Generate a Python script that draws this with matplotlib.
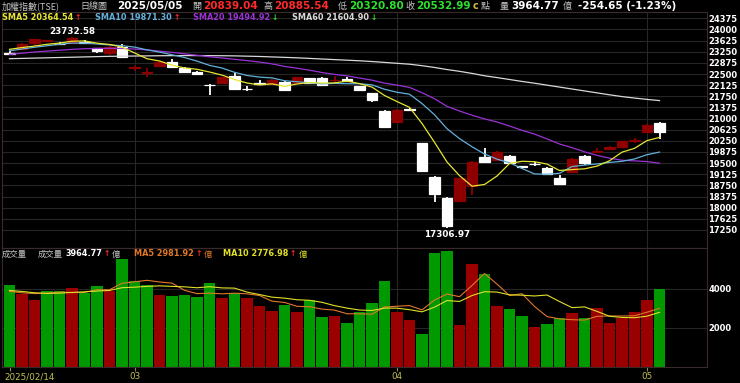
import matplotlib
matplotlib.use("Agg")
import matplotlib.pyplot as plt
from matplotlib.text import Annotation
from matplotlib.transforms import ScaledTranslation

# ---- data (TAIEX daily, 2025/02/14 .. 2025/05/05) ----
tick_idx = [0, 10, 31, 51]
tick_labels = ["2025/02/14", "03", "04", "05"]
chart_date = "2025/05/05"

opens = [23200, 23331, 23534, 23610, 23520, 23540, 23580, 23375, 23200, 23420,
         22700, 22540, 22780, 22915, 22690, 22560, 22140, 22190, 22420, 22000,
         22190, 22165, 22240, 22210, 22355, 22355, 22300, 22330, 22095, 21850,
         21265, 20895, 21320, 20170, 19040, 18340, 18240, 18740, 19695, 19605,
         19740, 19390, 19480, 19340, 19010, 19190, 19750, 19870, 19965, 20035,
         20250, 20540, 20839.04]
highs = [23274, 23540, 23690, 23660, 23580, 23732.58, 23640, 23390, 23440, 23500,
         22780, 22710, 22930, 22995, 22720, 22600, 22150, 22400, 22520, 22090,
         22310, 22320, 22260, 22400, 22380, 22410, 22430, 22400, 22110, 21860,
         21280, 21310, 21370, 20180, 19050, 18370, 19000, 19560, 20020, 19900,
         19760, 19420, 19540, 19360, 19090, 19660, 19760, 20000, 20060, 20260,
         20360, 20820, 20885.54]
lows = [23130, 23310, 23443, 23580, 23470, 23510, 23500, 23220, 23150, 23050,
        22610, 22410, 22760, 22710, 22560, 22450, 21790, 22180, 21970, 21940,
        22150, 22150, 21950, 22200, 22190, 22110, 22210, 22250, 21940, 21550,
        20690, 20880, 21260, 19230, 18180, 17306.97, 18200, 18430, 19510, 19590,
        19480, 19300, 19420, 19120, 18790, 19170, 19440, 19860, 19950, 20020,
        20180, 20520, 20320.80]
closes = [23190, 23510, 23668, 23630, 23505, 23700, 23560, 23290, 23420, 23060,
          22720, 22580, 22910, 22725, 22580, 22500, 22120, 22390, 21985, 21990,
          22180, 22300, 21965, 22390, 22210, 22120, 22310, 22280, 21965, 21625,
          20706, 21290, 21300, 19247, 18460, 17395, 18990, 19550, 19528, 19884,
          19495, 19370, 19460, 19135, 18800, 19650, 19495, 19915, 20040, 20245,
          20290, 20787.64, 20532.99]
prev_close0 = 23300  # close of the day before the first bar

sma5 = [23331, 23390, 23440, 23500, 23540, 23603, 23613, 23537, 23495, 23406,
        23210, 23014, 22938, 22799, 22703, 22659, 22567, 22463, 22315, 22197,
        22133, 22169, 22084, 22165, 22209, 22197, 22199, 22262, 22177, 22060,
        21777, 21573, 21377, 20834, 20201, 19538, 19078, 18724, 18781, 19066,
        19486, 19562, 19548, 19469, 19252, 19283, 19308, 19399, 19580, 19869,
        19997, 20259, 20364.54]
sma10 = [23280, 23340, 23400, 23450, 23500, 23540, 23540, 23510, 23480, 23453,
         23406, 23313, 23238, 23147, 23055, 22935, 22791, 22701, 22557, 22450,
         22396, 22368, 22274, 22240, 22203, 22165, 22184, 22173, 22171, 22135,
         21987, 21886, 21820, 21505, 21130, 20658, 20326, 20051, 19807, 19633,
         19512, 19320, 19136, 19125, 19159, 19384, 19435, 19473, 19524, 19561,
         19640, 19784, 19871.30]
sma20 = [23160, 23200, 23240, 23270, 23300, 23330, 23350, 23360, 23365, 23360,
         23340, 23310, 23270, 23230, 23180, 23130, 23080, 23040, 22995, 22952,
         22901, 22841, 22756, 22694, 22629, 22550, 22487, 22437, 22364, 22292,
         22192, 22127, 22047, 21873, 21667, 21411, 21255, 21112, 20989, 20884,
         20750, 20603, 20478, 20315, 20145, 20021, 19880, 19762, 19666, 19597,
         19576, 19552, 19494.92]
sma60 = [23015, 23025, 23035, 23045, 23055, 23065, 23075, 23085, 23095, 23100,
         23105, 23110, 23115, 23118, 23120, 23120, 23118, 23115, 23110, 23100,
         23090, 23075, 23060, 23045, 23025, 23005, 22985, 22965, 22945, 22920,
         22890, 22860, 22830, 22780, 22720, 22650, 22590, 22520, 22440, 22380,
         22315, 22250, 22190, 22125, 22060, 21995, 21930, 21865, 21800, 21740,
         21690, 21645, 21604.90]

volumes = [4154, 3727, 3419, 3897, 3897, 4017, 3761, 4120, 3897, 5521,
           4410, 4154, 3692, 3607, 3675, 3555, 4291, 3504, 3778, 3504,
           3128, 2838, 3179, 2786, 3385, 2530, 2581, 2239, 2786, 3265,
           4376, 2786, 2410, 1675, 5795, 5914, 2103, 5282, 4752, 3077,
           2974, 2581, 2017, 2154, 2478, 2769, 2478, 2991, 2239, 2478,
           2820, 3385, 3964.77]
vol_ma5 = [3850, 3780, 3740, 3760, 3819, 3791, 3798, 3938, 3938, 4263,
           4342, 4420, 4335, 4277, 3908, 3737, 3764, 3726, 3761, 3726,
           3641, 3350, 3285, 3087, 3063, 2944, 2892, 2704, 2704, 2680,
           3049, 3090, 3125, 2902, 3408, 3716, 3579, 4154, 4769, 4226,
           3638, 3733, 3080, 2561, 2441, 2400, 2379, 2574, 2591, 2591,
           2601, 2783, 2981.92]
vol_ma10 = [3900, 3850, 3780, 3750, 3760, 3800, 3830, 3870, 3900, 4041,
            4067, 4109, 4137, 4108, 4085, 4039, 4092, 4031, 4019, 3817,
            3689, 3557, 3506, 3424, 3395, 3292, 3121, 2995, 2896, 2872,
            2997, 2991, 2914, 2803, 3044, 3383, 3335, 3639, 3836, 3817,
            3677, 3656, 3617, 3665, 3333, 3019, 3056, 2827, 2576, 2516,
            2501, 2581, 2776.98]

price_ticks = list(range(17250, 24376, 375))
vol_ticks = [2000, 4000]

# ---- styling ----
W, H = 740, 383
BG = "black"
GRID = "#262626"
FRAME = "#3a2a2a"
UP_CANDLE = "#8e0000"
DOWN_CANDLE = "#ffffff"
VOL_UP = "#9a0000"
VOL_DOWN = "#009a00"
C_SMA5, C_SMA10, C_SMA20, C_SMA60 = "#e6e632", "#62b0da", "#9a32d6", "#d8d8d8"
C_VMA5, C_VMA10 = "#e07828", "#e0e028"
GRAY = "#c4c4c4"
RED, GREEN = "#ff2a2a", "#2ee02e"
CJK = ["Noto Sans CJK TC", "DejaVu Sans"]
LAT = ["DejaVu Sans"]


def px_box(x0, y0, x1, y1):
    return [x0 / W, 1 - y1 / H, (x1 - x0) / W, (y1 - y0) / H]


fig = plt.figure(figsize=(W / 100, H / 100), dpi=100, facecolor=BG)
ax = fig.add_axes(px_box(2, 12, 707, 248), facecolor=BG)
axv = fig.add_axes(px_box(2, 248, 707, 366.5), facecolor=BG, sharex=ax)

n = len(closes)
x = list(range(n))

for a in (ax, axv):
    for s in a.spines.values():
        s.set_color(FRAME)
        s.set_linewidth(0.8)
    a.yaxis.tick_right()
    a.tick_params(axis="y", colors="white", labelsize=6, length=0, pad=1.0)
    a.grid(axis="y", color=GRID, linewidth=0.8)
    a.set_axisbelow(True)
    for i in tick_idx[1:]:
        a.axvline(i, color=GRID, linewidth=0.8, zorder=0)

# ---- price panel ----
ax.set_xlim(-0.6, 55.8)
ax.set_ylim(16643, 24587)
ax.set_yticks(price_ticks)
ax.set_yticklabels([str(t) for t in price_ticks], fontweight="bold")
ax.tick_params(axis="x", bottom=False, labelbottom=False)

up = [c >= o for o, c in zip(opens, closes)]
ccol = [UP_CANDLE if u else DOWN_CANDLE for u in up]
ax.vlines(x, lows, highs, colors=ccol, linewidth=1.3, zorder=2)
body_lo = [min(o, c) for o, c in zip(opens, closes)]
body_h = [abs(c - o) for o, c in zip(opens, closes)]
ax.bar(x, body_h, bottom=body_lo, width=0.86, color=ccol, edgecolor=ccol,
       linewidth=0.9, zorder=2)

ax.plot(x, sma60, color=C_SMA60, linewidth=0.9, zorder=3)
ax.plot(x, sma20, color=C_SMA20, linewidth=0.9, zorder=3)
ax.plot(x, sma10, color=C_SMA10, linewidth=0.9, zorder=3)
ax.plot(x, sma5, color=C_SMA5, linewidth=0.9, zorder=3)

i_hi = max(range(n), key=lambda i: highs[i])
i_lo = min(range(n), key=lambda i: lows[i])
ax.annotate(f"{highs[i_hi]:.2f}", (i_hi, highs[i_hi]), xytext=(0, 1),
            textcoords="offset points", ha="center", va="bottom",
            color="white", fontsize=6.3, fontweight="bold", family=LAT)
ax.annotate(f"{lows[i_lo]:.2f}", (i_lo, lows[i_lo]), xytext=(0, -1),
            textcoords="offset points", ha="center", va="top",
            color="white", fontsize=6.3, fontweight="bold", family=LAT)

# ---- volume panel ----
prev = [prev_close0] + closes[:-1]
vcol = [VOL_UP if c > p else VOL_DOWN for c, p in zip(closes, prev)]
axv.bar(x, volumes, width=0.92, color=vcol, zorder=2)
axv.plot(x, vol_ma5, color=C_VMA5, linewidth=0.8, zorder=3)
axv.plot(x, vol_ma10, color=C_VMA10, linewidth=0.8, zorder=3)
axv.set_ylim(0, 6077)
axv.set_yticks(vol_ticks)
axv.set_yticklabels([str(t) for t in vol_ticks], fontweight="bold")
axv.set_xticks(tick_idx)
axv.set_xticklabels(tick_labels)
axv.tick_params(axis="x", colors="#8a8a5a", labelcolor="#c0c050",
                labelsize=6.3, length=3, width=0.8, pad=1)
lab0 = axv.get_xticklabels()[0]
lab0.set_ha("left")
lab0.set_transform(lab0.get_transform() + ScaledTranslation(-5.5 / 100, 0, fig.dpi_scale_trans))


# ---- header texts ----
def chain(x_px, y_px, parts):
    s, kw = parts[0]
    t = fig.text(x_px / W, 1 - y_px / H, s, ha="left", va="center", **kw)
    for s, kw in parts[1:]:
        gap = kw.pop("gap", 1.5)
        t = fig.add_artist(Annotation(s, xy=(1, 0.5), xycoords=t, xytext=(gap, 0),
                                      textcoords="offset points", ha="left",
                                      va="center", **kw))
    return t


def bold(color, size=7):
    return dict(color=color, fontsize=size, fontweight="bold", family=LAT)


def cjk(color=GRAY, size=6.5):
    return dict(color=color, fontsize=size, family=CJK)


def arrow(a, b):
    return ("↑", dict(color=RED, fontsize=5.5, fontweight="bold", family=LAT, gap=1)) if a >= b else \
           ("↓", dict(color=GREEN, fontsize=5.5, fontweight="bold", family=LAT, gap=1))


o, h, l, c, pc = opens[-1], highs[-1], lows[-1], closes[-1], closes[-2]
chg = c - pc
pcol = lambda v: RED if v >= pc else GREEN

row1 = 6
fig.text(2 / W, 1 - row1 / H, "加權指數(TSE)", ha="left", va="center", **cjk())
fig.text(80 / W, 1 - row1 / H, "日線圖", ha="left", va="center", **cjk())
fig.text(117 / W, 1 - row1 / H, chart_date, ha="left", va="center", **bold("white", 7.5))
chain(192, row1, [("開", cjk()), (f"{o:.2f}", bold(pcol(o), 7.5))])
chain(263, row1, [("高", cjk()), (f"{h:.2f}", bold(pcol(h), 7.5))])
chain(338, row1, [("低", cjk()), (f"{l:.2f}", bold(pcol(l), 7.5))])
chain(405, row1, [("收", cjk()), (f"{c:.2f}", bold(pcol(c), 7.5)),
                  ("c", bold("#d0c040", 7)), ("點", cjk())])
chain(500, row1, [("量", cjk()), (f"{volumes[-1]:.2f}", bold("white", 7.5)),
                  ("億", dict(cjk(), gap=3)),
                  (f"{chg:.2f} ({chg / pc * 100:.2f}%)", dict(bold("white", 7.5), gap=4))])

row2 = 17
for x0, name, vals, col in [(2, "SMA5", sma5, C_SMA5), (95, "SMA10", sma10, C_SMA10),
                            (193, "SMA20", sma20, C_SMA20), (292, "SMA60", sma60, C_SMA60)]:
    chain(x0, row2, [(f"{name} {vals[-1]:.2f}", bold(col, 5.9)), arrow(vals[-1], vals[-2])])

row3 = 254
fig.text(2 / W, 1 - row3 / H, "成交量", ha="left", va="center", **cjk(size=6))
chain(38, row3, [("成交量", cjk(size=6)), (f"{volumes[-1]:.2f}", bold("white", 5.9)),
                 arrow(volumes[-1], volumes[-2]), ("億", cjk(size=6))])
chain(134, row3, [(f"MA5 {vol_ma5[-1]:.2f}", bold(C_VMA5, 5.9)),
                  arrow(vol_ma5[-1], vol_ma5[-2]), ("億", cjk(C_VMA5, 6))])
chain(223, row3, [(f"MA10 {vol_ma10[-1]:.2f}", bold(C_VMA10, 5.9)),
                  arrow(vol_ma10[-1], vol_ma10[-2]), ("億", cjk(C_VMA10, 6))])

fig.savefig("out.png", dpi=100, facecolor=BG)
